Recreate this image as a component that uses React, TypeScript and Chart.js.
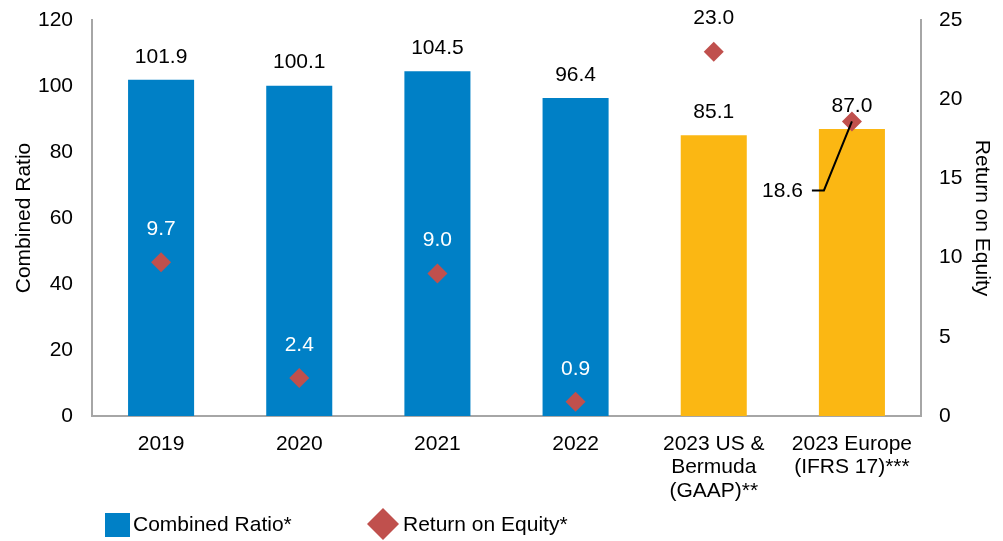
import { useEffect, useRef } from "react";
import { Chart, registerables } from "chart.js";

Chart.register(...registerables);

const categories: string[][] = [
  ["2019"],
  ["2020"],
  ["2021"],
  ["2022"],
  ["2023 US &", "Bermuda", "(GAAP)**"],
  ["2023 Europe", "(IFRS 17)***"],
];
const combinedRatio = [101.9, 100.1, 104.5, 96.4, 85.1, 87.0];
const returnOnEquity = [9.7, 2.4, 9.0, 0.9, 23.0, 18.6];
const barColors = ["#0080C6", "#0080C6", "#0080C6", "#0080C6", "#FBB713", "#FBB713"];
const roeLabelColors = ["#FFFFFF", "#FFFFFF", "#FFFFFF", "#FFFFFF", "#000000", "#000000"];
const leaderLabelIndex = 5;
const leftAxis = { min: 0, max: 120, step: 20, title: "Combined Ratio" };
const rightAxis = { min: 0, max: 25, step: 5, title: "Return on Equity" };
const legendLabels = ["Combined Ratio*", "Return on Equity*"];

const FONT_FAMILY = "'Liberation Sans', Arial, Helvetica, sans-serif";
const FONT_SIZE = 21;
const DIAMOND_COLOR = "#C0504D";
const AXIS_COLOR = "#A6A6A6";

const labelPlugin = {
  id: "valueLabels",
  afterDatasetDraw(chart: any, args: any) {
    if (args.index !== 0) return;
    const ctx = chart.ctx;
    ctx.save();
    ctx.font = `${FONT_SIZE}px ${FONT_FAMILY}`;
    ctx.textAlign = "center";
    ctx.textBaseline = "middle";
    ctx.fillStyle = "#000000";
    chart.getDatasetMeta(0).data.forEach((el: any, i: number) => {
      ctx.fillText(combinedRatio[i].toFixed(1), el.x, el.y - 23);
    });
    ctx.restore();
  },
  afterDatasetsDraw(chart: any) {
    const ctx = chart.ctx;
    ctx.save();
    ctx.font = `${FONT_SIZE}px ${FONT_FAMILY}`;
    ctx.textBaseline = "middle";
    chart.getDatasetMeta(1).data.forEach((el: any, i: number) => {
      const txt = returnOnEquity[i].toFixed(1);
      if (i === leaderLabelIndex) {
        ctx.strokeStyle = "#000000";
        ctx.lineWidth = 2;
        ctx.beginPath();
        ctx.moveTo(el.x - 40, el.y + 69);
        ctx.lineTo(el.x - 28, el.y + 69);
        ctx.lineTo(el.x, el.y);
        ctx.stroke();
        ctx.fillStyle = "#000000";
        ctx.textAlign = "right";
        ctx.fillText(txt, el.x - 49, el.y + 70);
      } else {
        ctx.fillStyle = roeLabelColors[i];
        ctx.textAlign = "center";
        ctx.fillText(txt, el.x, el.y - 33);
      }
    });
    ctx.restore();
  },
  afterDraw(chart: any) {
    const ctx = chart.ctx;
    ctx.save();
    ctx.font = `${FONT_SIZE}px ${FONT_FAMILY}`;
    ctx.textBaseline = "middle";
    ctx.textAlign = "left";
    ctx.fillStyle = barColors[0];
    ctx.fillRect(105, 513, 25, 24);
    ctx.fillStyle = "#000000";
    ctx.fillText(legendLabels[0], 133, 525);
    const cx = 383, cy = 524, r = 16;
    ctx.fillStyle = DIAMOND_COLOR;
    ctx.beginPath();
    ctx.moveTo(cx, cy - r);
    ctx.lineTo(cx + r, cy);
    ctx.lineTo(cx, cy + r);
    ctx.lineTo(cx - r, cy);
    ctx.closePath();
    ctx.fill();
    ctx.fillStyle = "#000000";
    ctx.fillText(legendLabels[1], 403, 525);
    ctx.restore();
  },
};

export default function App() {
  const canvasRef = useRef<HTMLCanvasElement | null>(null);

  useEffect(() => {
    document.body.style.margin = "0";
    const canvas = canvasRef.current;
    if (!canvas) return;
    const chart = new Chart(canvas, {
      type: "bar",
      data: {
        labels: categories as any,
        datasets: [
          {
            type: "bar",
            label: legendLabels[0],
            data: combinedRatio,
            backgroundColor: barColors,
            borderWidth: 0,
            yAxisID: "y",
            categoryPercentage: 1,
            barPercentage: 0.478,
            order: 1,
          } as any,
          {
            type: "line",
            label: legendLabels[1],
            data: returnOnEquity,
            showLine: false,
            pointStyle: "rectRot",
            pointRadius: 10,
            pointHoverRadius: 10,
            pointBackgroundColor: DIAMOND_COLOR,
            pointBorderColor: DIAMOND_COLOR,
            pointBorderWidth: 0,
            yAxisID: "y1",
            order: 0,
          } as any,
        ],
      },
      options: {
        animation: false,
        responsive: false,
        maintainAspectRatio: false,
        layout: { autoPadding: false, padding: { top: 20, left: 0, right: 0, bottom: 0 } },
        plugins: {
          legend: { display: false },
          tooltip: { enabled: false },
        },
        scales: {
          x: {
            grid: { display: false, drawTicks: false },
            border: { display: true, color: AXIS_COLOR, width: 2 },
            ticks: {
              color: "#000000",
              font: { family: FONT_FAMILY, size: FONT_SIZE, lineHeight: 1.1 },
              padding: 17,
              maxRotation: 0,
              autoSkip: false,
            },
            afterFit(scale: any) {
              scale.height = 125;
              scale.paddingLeft = 0;
              scale.paddingRight = 0;
            },
          },
          y: {
            position: "left",
            min: leftAxis.min,
            max: leftAxis.max,
            grid: { display: false, drawTicks: false },
            border: { display: true, color: AXIS_COLOR, width: 2 },
            ticks: {
              stepSize: leftAxis.step,
              color: "#000000",
              font: { family: FONT_FAMILY, size: FONT_SIZE },
              padding: 19,
            },
            title: {
              display: true,
              text: leftAxis.title,
              color: "#000000",
              font: { family: FONT_FAMILY, size: FONT_SIZE },
              padding: { top: 12, bottom: 0 },
            },
            afterFit(scale: any) {
              scale.width = 92;
              scale.paddingTop = 0;
              scale.paddingBottom = 0;
            },
          },
          y1: {
            position: "right",
            min: rightAxis.min,
            max: rightAxis.max,
            grid: { display: false, drawTicks: false },
            border: { display: true, color: AXIS_COLOR, width: 2 },
            ticks: {
              stepSize: rightAxis.step,
              color: "#000000",
              font: { family: FONT_FAMILY, size: FONT_SIZE },
              padding: 18,
            },
            title: {
              display: true,
              text: rightAxis.title,
              color: "#000000",
              font: { family: FONT_FAMILY, size: FONT_SIZE },
              padding: { top: 9, bottom: 0 },
            },
            afterFit(scale: any) {
              scale.width = 82;
              scale.paddingTop = 0;
              scale.paddingBottom = 0;
            },
          },
        },
      },
      plugins: [labelPlugin],
    });
    return () => chart.destroy();
  }, []);

  return (
    <div style={{ width: 1003, height: 541, position: "relative", background: "#ffffff" }}>
      <canvas ref={canvasRef} width={1003} height={541} style={{ width: 1003, height: 541, display: "block" }} />
    </div>
  );
}
